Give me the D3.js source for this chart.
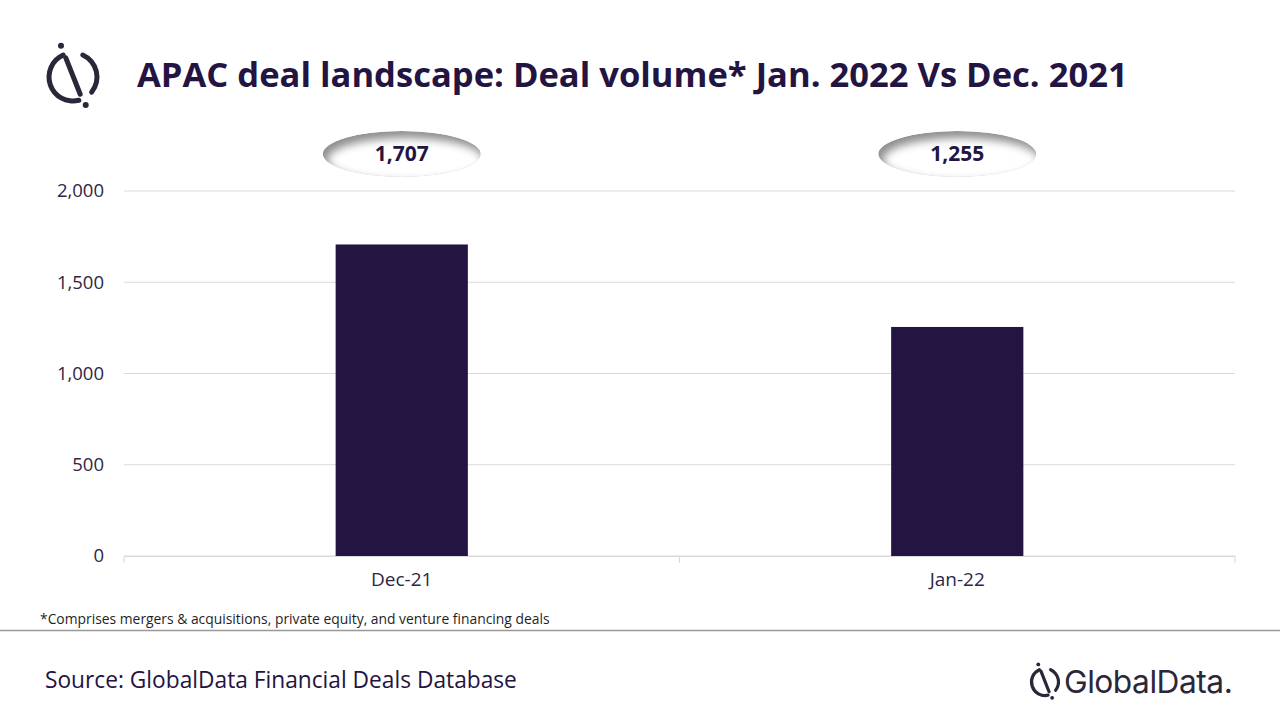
<!DOCTYPE html>
<html>
<head>
<meta charset="utf-8">
<script src="https://cdn.jsdelivr.net/npm/d3@7"></script>
<style>
  html, body { margin: 0; padding: 0; background: #fff; }
  svg { display: block; }
  text { font-family: "Open Sans", "Noto Sans", sans-serif; }
</style>
</head>
<body>
<div id="viz"></div>
<script>
// chart data
var categories = ["Dec-21", "Jan-22"];
var dealVolume = [1707, 1255];
var yTicks = [0, 500, 1000, 1500, 2000];

var title = "APAC deal landscape: Deal volume* Jan. 2022 Vs Dec. 2021";
var footnote = "*Comprises mergers & acquisitions, private equity, and venture financing deals";
var source = "Source: GlobalData Financial Deals Database";

var ink = "#231442";
var W = 1280, H = 720;
var margin = {top: 191, right: 45, bottom: 164, left: 124};
var width = W - margin.left - margin.right,
    height = H - margin.top - margin.bottom;

var svg = d3.select("#viz").append("svg")
    .attr("width", W)
    .attr("height", H);

// fit a text element to a target width by changing font size
function fitWidth(sel, target) {
    var fs = parseFloat(sel.attr("font-size"));
    var w = sel.node().getComputedTextLength();
    sel.attr("font-size", (fs * target / w).toFixed(2));
}

// logo mark: broken circle, diagonal stroke, two dots
function logo(g, r, sw) {
    var arc = d3.arc().innerRadius(r - sw / 2).outerRadius(r + sw / 2).cornerRadius(sw / 2);
    var deg = Math.PI / 180;
    g.append("path").attr("d", arc({startAngle: 160 * deg, endAngle: 342 * deg})).attr("fill", "#2b2738");
    g.append("path").attr("d", arc({startAngle: 18 * deg, endAngle: 135 * deg})).attr("fill", "#2b2738");
    g.append("line")
        .attr("x1", -r * 0.3).attr("y1", -r * 0.8)
        .attr("x2", r * 0.3).attr("y2", r * 0.72)
        .attr("stroke", "#2b2738").attr("stroke-width", sw).attr("stroke-linecap", "round");
    g.append("circle").attr("cx", -r * 0.5).attr("cy", -r * 1.3).attr("r", sw * 0.6).attr("fill", "#2b2738");
    g.append("circle").attr("cx", r * 0.53).attr("cy", r * 1.17).attr("r", sw * 0.6).attr("fill", "#2b2738");
}

logo(svg.append("g").attr("transform", "translate(73,77)"), 24, 5);

var t = svg.append("text")
    .attr("x", 137).attr("y", 87)
    .attr("font-size", 36)
    .attr("font-weight", 700)
    .attr("fill", ink)
    .text(title);
fitWidth(t, 991);

var g = svg.append("g")
    .attr("transform", "translate(" + margin.left + "," + margin.top + ")");

var x = d3.scaleBand().domain(categories).range([0, width]).padding(0);
var y = d3.scaleLinear().domain([0, 2000]).range([height, 0]);
var barW = x.bandwidth() * 0.238;

// gridlines
g.append("g")
    .selectAll("line")
    .data(yTicks)
    .enter().append("line")
    .attr("x1", 0).attr("x2", width)
    .attr("y1", function(d) { return y(d); })
    .attr("y2", function(d) { return y(d); })
    .attr("stroke", "#d9d9d9")
    .attr("stroke-width", 1);

// y axis labels
var yAxis = g.append("g")
    .call(d3.axisLeft(y).tickValues(yTicks).tickFormat(d3.format(",")).tickSize(0).tickPadding(20));
yAxis.select(".domain").remove();
yAxis.selectAll("text")
    .attr("font-size", 18.5)
    .attr("fill", "#2e2645")
    .style("font-family", '"Open Sans", sans-serif');

// x axis
var xAxis = g.append("g")
    .attr("transform", "translate(0," + height + ")")
    .call(d3.axisBottom(x).tickSize(0).tickPadding(17));
xAxis.select(".domain").attr("stroke", "#d9d9d9");
xAxis.selectAll("text")
    .attr("font-size", 19)
    .attr("fill", "#2e2645")
    .style("font-family", '"Open Sans", sans-serif');

// category separators on the x axis
g.append("g")
    .selectAll("line")
    .data([0, 1, 2])
    .enter().append("line")
    .attr("x1", function(d) { return d * x.step(); })
    .attr("x2", function(d) { return d * x.step(); })
    .attr("y1", height).attr("y2", height + 7)
    .attr("stroke", "#d9d9d9");

// bars
g.selectAll(".bar")
    .data(dealVolume)
    .enter().append("rect")
    .attr("class", "bar")
    .attr("x", function(d, i) { return x(categories[i]) + x.bandwidth() / 2 - barW / 2; })
    .attr("y", function(d) { return y(d); })
    .attr("width", barW)
    .attr("height", function(d) { return height - y(d); })
    .attr("fill", ink);

// value bubbles: grey ellipse covered by a blurred white one shifted down-right,
// so only the top-left rim stays grey
var defs = svg.append("defs");
defs.append("filter").attr("id", "soft")
    .attr("x", "-20%").attr("y", "-50%").attr("width", "140%").attr("height", "200%")
    .append("feGaussianBlur").attr("stdDeviation", 4);
defs.append("clipPath").attr("id", "bubbleClip")
    .append("ellipse").attr("rx", 79).attr("ry", 23);

var bub = g.selectAll(".bubble")
    .data(dealVolume)
    .enter().append("g")
    .attr("class", "bubble")
    .attr("transform", function(d, i) {
        return "translate(" + (x(categories[i]) + x.bandwidth() / 2) + "," + (154 - margin.top) + ")";
    });
var inner = bub.append("g").attr("clip-path", "url(#bubbleClip)");
inner.append("ellipse")
    .attr("rx", 79).attr("ry", 23)
    .attr("fill", "#8f8f8f");
inner.append("ellipse")
    .attr("cx", 4).attr("cy", 6)
    .attr("rx", 78).attr("ry", 22)
    .attr("fill", "#fff")
    .attr("filter", "url(#soft)");
bub.append("text")
    .attr("text-anchor", "middle")
    .attr("dy", "0.35em")
    .attr("font-size", 21)
    .attr("font-weight", 700)
    .attr("fill", ink)
    .text(function(d) { return d3.format(",")(d); });

// footnote and footer
var fn = svg.append("text")
    .attr("x", 40).attr("y", 624)
    .attr("font-size", 13.5)
    .attr("fill", "#1f1f1f")
    .text(footnote);
fitWidth(fn, 510);

svg.append("line")
    .attr("x1", 0).attr("x2", W)
    .attr("y1", 630.5).attr("y2", 630.5)
    .attr("stroke", "#999")
    .attr("stroke-width", 1.5);

var s = svg.append("text")
    .attr("x", 45).attr("y", 688)
    .attr("font-size", 22)
    .attr("fill", ink)
    .text(source);
fitWidth(s, 472);

logo(svg.append("g").attr("transform", "translate(1045,682)"), 13.5, 3.2);
var gd = svg.append("text")
    .attr("x", 1064).attr("y", 693)
    .attr("font-size", 30)
    .attr("fill", "#2b2738")
    .style("font-family", "Inter, sans-serif")
    .style("letter-spacing", "-0.5px")
    .text("GlobalData.");
fitWidth(gd, 168);
</script>
</body>
</html>
